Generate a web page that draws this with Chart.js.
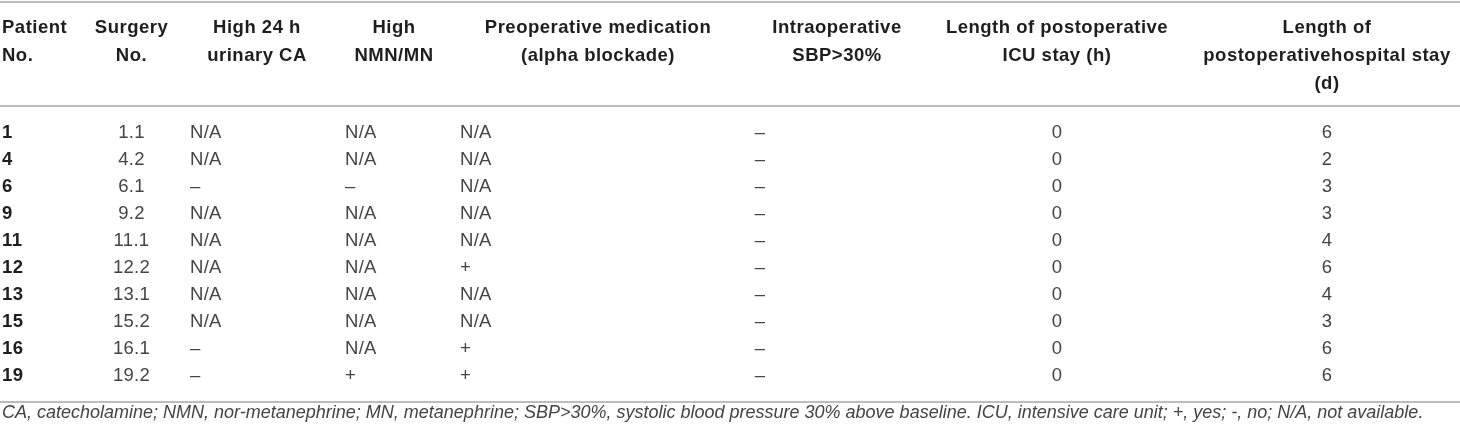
<!DOCTYPE html>
<html>
<head>
<meta charset="utf-8">
<script src="https://cdn.jsdelivr.net/npm/chart.js@4.4.1/dist/chart.umd.min.js"></script>
<style>
  html, body { margin: 0; padding: 0; background: #ffffff; }
  #wrap { position: relative; width: 1460px; height: 433px; }
</style>
</head>
<body>
<div id="wrap"><canvas id="c"></canvas></div>
<script>
// ---------- DATA ----------
const headers = [
  ["Patient", "No."],
  ["Surgery", "No."],
  ["High 24 h", "urinary CA"],
  ["High", "NMN/MN"],
  ["Preoperative medication", "(alpha blockade)"],
  ["Intraoperative", "SBP>30%"],
  ["Length of postoperative", "ICU stay (h)"],
  ["Length of", "postoperativehospital stay", "(d)"]
];
const patientNo     = ["1", "4", "6", "9", "11", "12", "13", "15", "16", "19"];
const surgeryNo     = ["1.1", "4.2", "6.1", "9.2", "11.1", "12.2", "13.1", "15.2", "16.1", "19.2"];
const urinaryCA     = ["N/A", "N/A", "–", "N/A", "N/A", "N/A", "N/A", "N/A", "–", "–"];
const nmnMn         = ["N/A", "N/A", "–", "N/A", "N/A", "N/A", "N/A", "N/A", "N/A", "+"];
const alphaBlockade = ["N/A", "N/A", "N/A", "N/A", "N/A", "+", "N/A", "N/A", "+", "+"];
const sbpOver30     = ["–", "–", "–", "–", "–", "–", "–", "–", "–", "–"];
const icuStayH      = [0, 0, 0, 0, 0, 0, 0, 0, 0, 0];
const hospitalStayD = [6, 2, 3, 3, 4, 6, 4, 3, 6, 6];
const footnote = "CA, catecholamine; NMN, nor-metanephrine; MN, metanephrine; SBP>30%, systolic blood pressure 30% above baseline. ICU, intensive care unit; +, yes; -, no; N/A, not available.";

const columnValues = [patientNo, surgeryNo, urinaryCA, nmnMn, alphaBlockade, sbpOver30, icuStayH, hospitalStayD];

// ---------- LAYOUT (kept apart from data) ----------
const layout = [
  { x: 2,    align: "left",   hx: 2,    halign: "left",   bold: true },
  { x: 131.5,align: "center", hx: 131.5,halign: "center" },
  { x: 190,  align: "left",   hx: 257,  halign: "center" },
  { x: 345,  align: "left",   hx: 394,  halign: "center" },
  { x: 460,  align: "left",   hx: 598,  halign: "center" },
  { x: 760,  align: "center", hx: 837,  halign: "center" },
  { x: 1057, align: "center", hx: 1057, halign: "center" },
  { x: 1327, align: "center", hx: 1327, halign: "center" }
];
const headerTop = -3.85, headerPitch = 1.02;
const ruleTop = -4.84, ruleHeader = -0.99, ruleBottom = 9.96, footY = 10.37;

const HEAD_FONT = "bold 18.5px 'Liberation Sans', Arial, sans-serif";
const BODY_FONT = "18.5px 'Liberation Sans', Arial, sans-serif";
const BODY_BOLD = "bold 18.5px 'Liberation Sans', Arial, sans-serif";
const FOOT_FONT = "italic 18px 'Liberation Sans', Arial, sans-serif";

const datasets = columnValues.map((vals, ci) => ({
  label: headers[ci].join(" "),
  data: vals.map((v, ri) => ({ x: layout[ci].x, y: ri, t: String(v) })),
  pointRadius: 0,
  pointHoverRadius: 0,
  showLine: false
}));

const tablePlugin = {
  id: "tableText",
  afterDatasetsDraw(chart) {
    const ctx = chart.ctx;
    const xs = chart.scales.x, ys = chart.scales.y;
    ctx.save();
    // rules
    ctx.strokeStyle = "#bdbdbd";
    ctx.lineWidth = 2;
    [ruleTop, ruleHeader, ruleBottom].forEach(v => {
      const py = Math.round(ys.getPixelForValue(v));
      ctx.beginPath();
      ctx.moveTo(xs.getPixelForValue(0), py);
      ctx.lineTo(xs.getPixelForValue(1460), py);
      ctx.stroke();
    });
    // headers
    ctx.textBaseline = "middle";
    ctx.fillStyle = "#1e1e1e";
    ctx.font = HEAD_FONT;
    if ("letterSpacing" in ctx) ctx.letterSpacing = "0.5px";
    headers.forEach((lines, ci) => {
      ctx.textAlign = layout[ci].halign;
      lines.forEach((ln, li) => {
        ctx.fillText(ln, xs.getPixelForValue(layout[ci].hx), ys.getPixelForValue(headerTop + li * headerPitch));
      });
    });
    // body cells
    chart.data.datasets.forEach((ds, ci) => {
      const meta = chart.getDatasetMeta(ci);
      ctx.textAlign = layout[ci].align;
      ctx.font = layout[ci].bold ? BODY_BOLD : BODY_FONT;
      ctx.fillStyle = layout[ci].bold ? "#1e1e1e" : "#444444";
      if ("letterSpacing" in ctx) ctx.letterSpacing = layout[ci].bold ? "0.5px" : "0.3px";
      meta.data.forEach((el, ri) => {
        ctx.fillText(ds.data[ri].t, el.x, el.y);
      });
    });
    // footnote
    ctx.font = FOOT_FONT;
    ctx.fillStyle = "#444444";
    ctx.textAlign = "left";
    if ("letterSpacing" in ctx) ctx.letterSpacing = "0px";
    ctx.fillText(footnote, xs.getPixelForValue(2), ys.getPixelForValue(footY));
    ctx.restore();
  }
};

new Chart(document.getElementById("c"), {
  type: "scatter",
  data: { datasets },
  options: {
    responsive: true,
    maintainAspectRatio: false,
    animation: false,
    events: [],
    layout: { padding: 0 },
    plugins: { legend: { display: false }, tooltip: { enabled: false } },
    scales: {
      x: { type: "linear", min: 0, max: 1460, display: false },
      y: { type: "linear", min: -4.896, max: 11.105, reverse: true, display: false }
    }
  },
  plugins: [tablePlugin]
});
</script>
</body>
</html>
